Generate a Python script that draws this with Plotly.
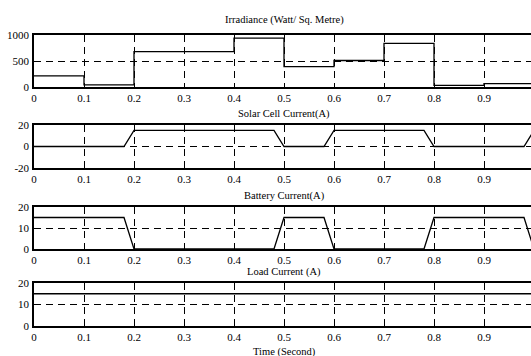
import plotly.graph_objects as go

# ---- data ----
irr_t = [0, 0.1, 0.2, 0.3, 0.4, 0.5, 0.6, 0.7, 0.8, 0.9, 1.0]
irr_v = [215, 40, 680, 680, 940, 390, 510, 840, 30, 65, 65]

solar_t = [0, 0.18, 0.2, 0.48, 0.5, 0.58, 0.6, 0.78, 0.8, 0.98, 1.0]
solar_v = [0, 0, 15, 15, 0, 0, 15, 15, 0, 0, 15]

batt_t = [0, 0.18, 0.2, 0.48, 0.5, 0.58, 0.6, 0.78, 0.8, 0.98, 1.0]
batt_v = [15, 15, 0, 0, 15, 15, 0, 0, 15, 15, 0]

load_t = [0, 1.0]
load_v = [15, 15]

titles = ["Irradiance (Watt/ Sq. Metre)", "Solar Cell Current(A)",
          "Battery Current(A)", "Load Current (A)"]
xlabel = "Time (Second)"
x_ticks = [0, 0.1, 0.2, 0.3, 0.4, 0.5, 0.6, 0.7, 0.8, 0.9, 1.0]
x_ticklabels = ["0", "0.1", "0.2", "0.3", "0.4", "0.5", "0.6", "0.7", "0.8", "0.9", "1"]
y_ranges = [[0, 1000], [-20, 20], [0, 20], [0, 20]]
y_ticks = [[0, 500, 1000], [-20, 0, 20], [0, 10, 20], [0, 10, 20]]
y_ticklabels = [["0", "500", "1000"], ["-20", "0", "20"], ["0", "10", "20"], ["0", "10", "20"]]

# ---- layout geometry (pixels) ----
W, H = 531, 356
L = 34
panels_px = [(35, 87), (125, 168), (207, 249), (283, 326)]  # top, bottom
title_px = [20, 114, 196, 272]
CX = (284 - L) / (W - L)

FONT = "Liberation Serif, Times New Roman, Times, serif"
fig = go.Figure()

series = [(irr_t, irr_v, "hv"), (solar_t, solar_v, "linear"),
          (batt_t, batt_v, "linear"), (load_t, load_v, "linear")]

for i, (t, v, shape) in enumerate(series):
    sfx = "" if i == 0 else str(i + 1)
    fig.add_trace(go.Scatter(x=t, y=v, mode="lines", line=dict(color="black", width=1.3, shape=shape),
                             xaxis="x" + sfx, yaxis="y" + sfx, showlegend=False, hoverinfo="skip"))
    top, bot = panels_px[i]
    dom = [1 - bot / H, 1 - top / H]
    axcommon = dict(showline=True, linecolor="black", linewidth=1.5, mirror="ticks",
                    ticks="inside", ticklen=4, tickcolor="black", tickwidth=1,
                    showgrid=True, gridcolor="black", gridwidth=1, griddash="7px,5px",
                    zeroline=False, automargin=False,
                    tickfont=dict(family=FONT, size=11, color="black"))
    fig.layout["xaxis" + sfx] = dict(axcommon, domain=[0, 1], range=[0, 0.994],
                                     anchor="y" + sfx, tickvals=x_ticks, ticktext=x_ticklabels)
    fig.layout["yaxis" + sfx] = dict(axcommon, domain=dom, range=y_ranges[i],
                                     anchor="x" + sfx, tickvals=y_ticks[i],
                                     ticktext=y_ticklabels[i], ticklabelstandoff=1)
    fig.add_annotation(text=titles[i], x=CX, y=1 - title_px[i] / H, xref="paper", yref="paper",
                       xanchor="center", yanchor="middle", showarrow=False,
                       font=dict(family=FONT, size=10.5, color="black"))

fig.add_annotation(text=xlabel, x=CX, y=1 - 352 / H, xref="paper", yref="paper",
                   xanchor="center", yanchor="middle", showarrow=False,
                   font=dict(family=FONT, size=10.5, color="black"))

fig.update_layout(width=W, height=H, margin=dict(l=L, r=0, t=0, b=0, autoexpand=False),
                  font=dict(family=FONT), plot_bgcolor="white", paper_bgcolor="white")
fig.write_html("out.html", config={"displayModeBar": False},
               post_script="document.body.style.margin='0';document.body.style.overflow='hidden';")
